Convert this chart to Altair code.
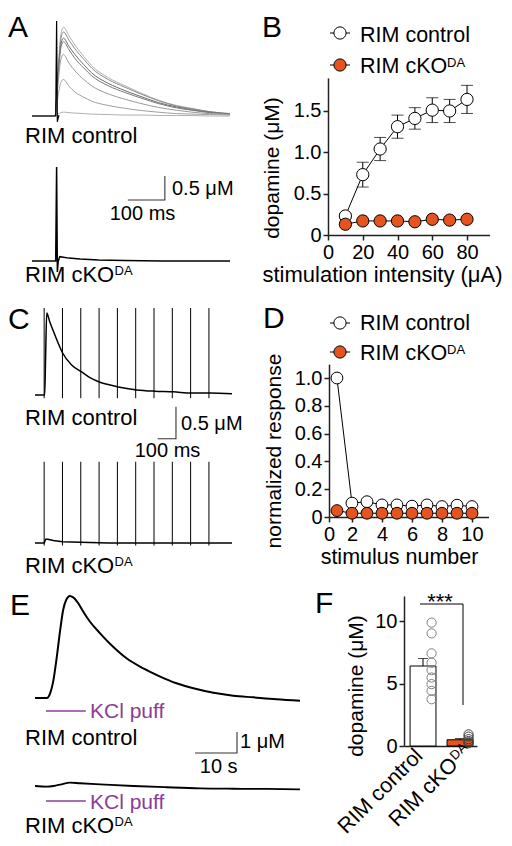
import altair as alt
import pandas as pd

FONT = "Liberation Sans"
ORANGE = "#E5531F"
PURPLE = "#8C3D98"
W, H = 496, 830

# ---------------- data ----------------
# Panel A: evoked dopamine transients (uM) vs time (ms), increasing stimulation
A_t = [0, 62, 70, 78, 85, 100, 116, 140, 161, 206, 251, 300, 341, 390, 432, 480, 535]
A_ctrl_1 = [0, 0, 0.92, 1.70, 1.85, 1.67, 1.48, 1.24, 1.05, 0.80, 0.63, 0.46, 0.33, 0.22, 0.16, 0.09, 0.05]
A_ctrl_2 = [0, 0, 0.85, 1.60, 1.75, 1.58, 1.40, 1.18, 1.00, 0.76, 0.60, 0.44, 0.32, 0.21, 0.15, 0.09, 0.05]
A_ctrl_3 = [0, 0, 0.80, 1.48, 1.62, 1.45, 1.28, 1.07, 0.90, 0.68, 0.53, 0.39, 0.28, 0.19, 0.13, 0.08, 0.04]
A_ctrl_4 = [0, 0, 0.76, 1.42, 1.55, 1.38, 1.20, 1.00, 0.84, 0.63, 0.49, 0.36, 0.26, 0.17, 0.12, 0.07, 0.04]
A_ctrl_5 = [0, 0, 0.64, 1.18, 1.28, 1.10, 0.94, 0.76, 0.63, 0.46, 0.35, 0.25, 0.18, 0.12, 0.08, 0.05, 0.03]
A_ctrl_6 = [0, 0, 0.40, 0.70, 0.76, 0.62, 0.50, 0.39, 0.31, 0.22, 0.16, 0.11, 0.08, 0.05, 0.04, 0.03, 0.02]
A_ctrl_7 = [0, 0, 0.04, 0.07, 0.08, 0.07, 0.06, 0.05, 0.04, 0.03, 0.02, 0.02, 0.01, 0.01, 0.01, 0.00, 0.00]
A_art_t = [0, 64, 66.5, 68.5, 70.5, 73]
A_art_v = [0, 0, 1.98, -0.12, -0.05, 0.02]
A_ko_t = [0, 64, 66.5, 68.5, 71, 75, 85, 100, 130, 180, 250, 350, 450, 535]
A_ko_v = [0, 0, 1.96, -0.23, 0.0, 0.09, 0.08, 0.06, 0.04, 0.02, 0.01, 0.0, 0.0, 0.0]
A_bar_t = [259, 359]      # 100 ms
A_bar_v = [1.27, 1.77]    # 0.5 uM

# Panel B: dopamine vs stimulation intensity
B_x = [10, 20, 30, 40, 50, 60, 70, 80]
B_ctrl = [0.23, 0.73, 1.04, 1.31, 1.41, 1.51, 1.50, 1.64]
B_ctrl_err = [0.03, 0.15, 0.14, 0.14, 0.13, 0.15, 0.14, 0.17]
B_ko = [0.13, 0.17, 0.17, 0.17, 0.16, 0.19, 0.18, 0.19]
B_ko_err = [0.02, 0.02, 0.02, 0.02, 0.02, 0.02, 0.02, 0.02]

# Panel C: 10 Hz train
C_t = [0, 50, 53, 58, 64, 80, 100, 128, 150, 200, 255, 300, 355, 405, 455, 555, 655, 755, 855, 955, 1076]
C_ctrl = [0, 0, 0, 0.6, 1.28, 1.15, 1.0, 0.8, 0.66, 0.47, 0.36, 0.27, 0.2, 0.16, 0.125, 0.08, 0.06, 0.05, 0.03, 0.03, 0.02]
C_ko_t = [0, 50, 58, 70, 100, 150, 250, 400, 1076]
C_ko = [0, 0, 0.06, 0.06, 0.04, 0.02, 0.01, 0, 0]
C_stim = [50, 150, 250, 350, 450, 550, 650, 750, 850, 950]
C_ctrl_spike_lo = [-0.05] * 10
C_ctrl_spike_hi = [1.36] * 10
C_ko_spike_lo = [-0.04] * 10
C_ko_spike_hi = [1.27] * 10
C_bar_t = [670, 770]
C_bar_v = [1.63, 2.13]

# Panel D: normalized response vs stimulus number
D_x = [1, 2, 3, 4, 5, 6, 7, 8, 9, 10]
D_ctrl = [1.0, 0.10, 0.11, 0.087, 0.087, 0.078, 0.087, 0.075, 0.085, 0.075]
D_ko = [0.046, 0.027, 0.027, 0.027, 0.027, 0.027, 0.027, 0.027, 0.027, 0.027]
D_yticks = [0, 0.2, 0.4, 0.6, 0.8, 1.0]

# Panel E: KCl puff (time in s)
E_t = [0, 2.8, 3.6, 4.4, 5.2, 6.0, 6.7, 7.5, 8.3, 9.1, 10.3, 11.5, 13.1, 15.5, 18.6, 21.8,
       25.8, 29.8, 33.7, 37.7, 42.5, 47.2, 52.0, 57.5, 63.1]
E_ctrl = [0, 0, 0.22, 0.86, 1.97, 3.24, 4.19, 4.70, 4.86, 4.79, 4.51, 4.11, 3.63, 3.08, 2.44, 1.89,
          1.41, 1.02, 0.70, 0.46, 0.25, 0.11, 0.03, -0.06, -0.13]
E_ko_t = [0, 2.8, 4.4, 6.3, 8.3, 10.7, 15.5, 23.4, 31.4, 39.3, 47.2, 55.2, 63.1]
E_ko = [0, -0.03, 0, 0.08, 0.16, 0.13, 0.08, 0, -0.06, -0.11, -0.13, -0.14, -0.16]
E_puff = [2.6, 12.1]
E_bar_t = [38.1, 48.1]
E_bar_v = [1.57, 2.57]

# Panel F: peak dopamine
F_groups = ["RIM control", "RIM cKO"]
F_mean = [6.4, 0.5]
F_sem = [0.6, 0.1]
F_ctrl_pts = [9.87, 9.01, 7.41, 6.66, 6.07, 5.48, 4.95, 4.41, 3.74]
F_ko_pts = [0.93, 0.75, 0.55, 0.40, 0.30, 0.22]


# ---------------- helpers ----------------
def S(domain, rng):
    return alt.Scale(domain=domain, range=rng, nice=False, zero=False)


def trace(t, v, xs, ys, color="black", sw=1.0, interp="linear"):
    df = pd.DataFrame({"t": t, "v": v, "i": list(range(len(t)))})
    return alt.Chart(df).mark_line(color=color, strokeWidth=sw, interpolate=interp).encode(
        x=alt.X("t:Q", scale=xs, axis=None),
        y=alt.Y("v:Q", scale=ys, axis=None),
        order="i:Q",
    )


def scalebar(bt, bv, xs, ys):
    return trace([bt[0], bt[1], bt[1]], [bv[0], bv[0], bv[1]], xs, ys, color="#333", sw=1.1)


def spikes(times, lo, hi, xs, ys):
    df = pd.DataFrame({"t": times, "lo": lo, "hi": hi})
    return alt.Chart(df).mark_rule(color="black", strokeWidth=1).encode(
        x=alt.X("t:Q", scale=xs, axis=None),
        y=alt.Y("lo:Q", scale=ys, axis=None),
        y2="hi:Q",
    )


ONE = alt.Data(values=[{"a": 1}])


def label(text, x, y, size=22, color="black", align="left", baseline="alphabetic",
          angle=0, dx=0, dy=0):
    return alt.Chart(ONE).mark_text(
        text=text, font=FONT, fontSize=size, color=color, align=align,
        baseline=baseline, angle=angle, dx=dx, dy=dy,
    ).encode(x=alt.value(x), y=alt.value(y))


def hline(x1, x2, y, color="black", sw=1):
    return alt.Chart(ONE).mark_rule(color=color, strokeWidth=sw).encode(
        x=alt.value(x1), x2=alt.value(x2), y=alt.value(y))


def vline(x, y1, y2, color="black", sw=1):
    return alt.Chart(ONE).mark_rule(color=color, strokeWidth=sw).encode(
        x=alt.value(x), y=alt.value(y1), y2=alt.value(y2))


def dot(x, y, fill, size=150):
    return alt.Chart(ONE).mark_point(
        shape="circle", filled=True, fill=fill, stroke="black", strokeWidth=1,
        size=size, opacity=1).encode(x=alt.value(x), y=alt.value(y))


LBL1 = "datum.value == 0 ? '0' : format(datum.value, '.1f')"

# ---------------- panel A ----------------
xA = S([0, 535], [24, 222])
yA1 = S([0, 2], [108, 12])
yA2 = S([0, 2], [253, 157])
greys = ["#b0b0b0", "#8a8a8a", "#6a6a6a", "#7a7a7a", "#9a9a9a", "#a0a0a0", "#b0b0b0"]
A_ctrl = [A_ctrl_1, A_ctrl_2, A_ctrl_3, A_ctrl_4, A_ctrl_5, A_ctrl_6, A_ctrl_7]
panelA1 = alt.layer(
    *[trace(A_t, tr, xA, yA1, color=g, sw=1, interp="monotone") for tr, g in zip(A_ctrl, greys)],
    trace(A_art_t, A_art_v, xA, yA1, color="black", sw=1.2),
)
panelA2 = alt.layer(
    trace(A_ko_t, A_ko_v, xA, yA2, color="black", sw=1.5),
    scalebar(A_bar_t, A_bar_v, xA, yA2),
)

# ---------------- panel B ----------------
xB = S([0, 93], [320, 481.6])
yB = S([0, 1.9], [227, 69.9])
axBx = alt.Axis(orient="bottom", offset=227 - H, values=[0, 20, 40, 60, 80], title=None,
                labelFlush=False, labelOverlap=False)
axBy = alt.Axis(orient="left", offset=-320, values=[0, 0.5, 1.0, 1.5], labelExpr=LBL1,
                title=None, labelOverlap=False)
dfBc = pd.DataFrame({"x": B_x, "v": B_ctrl, "e": B_ctrl_err})
dfBk = pd.DataFrame({"x": B_x, "v": B_ko, "e": B_ko_err})


def xy_panel(df, xs, ys, ax, ay, kind, fill=None, size=150):
    base = alt.Chart(df).transform_calculate(lo="datum.v - datum.e", hi="datum.v + datum.e")
    X = alt.X("x:Q", scale=xs, axis=ax)
    if kind == "err":
        return base.mark_rule(color="black", strokeWidth=1).encode(
            x=X, y=alt.Y("lo:Q", scale=ys, axis=ay), y2="hi:Q")
    if kind == "caplo":
        return base.mark_tick(orient="horizontal", size=12, thickness=1, color="black").encode(
            x=X, y=alt.Y("lo:Q", scale=ys, axis=ay))
    if kind == "caphi":
        return base.mark_tick(orient="horizontal", size=12, thickness=1, color="black").encode(
            x=X, y=alt.Y("hi:Q", scale=ys, axis=ay))
    if kind == "line":
        return base.mark_line(color="black", strokeWidth=1).encode(
            x=X, y=alt.Y("v:Q", scale=ys, axis=ay))
    return base.mark_point(shape="circle", filled=True, fill=fill, stroke="black",
                           strokeWidth=1, size=size, opacity=1).encode(
        x=X, y=alt.Y("v:Q", scale=ys, axis=ay))


panelB = alt.layer(
    xy_panel(dfBc, xB, yB, axBx, axBy, "err"),
    xy_panel(dfBc, xB, yB, axBx, axBy, "caplo"),
    xy_panel(dfBc, xB, yB, axBx, axBy, "caphi"),
    xy_panel(dfBc, xB, yB, axBx, axBy, "line"),
    xy_panel(dfBk, xB, yB, axBx, axBy, "line"),
    xy_panel(dfBc, xB, yB, axBx, axBy, "pt", fill="white"),
    xy_panel(dfBk, xB, yB, axBx, axBy, "pt", fill=ORANGE),
)

# ---------------- panel C ----------------
xC = S([0, 1076], [27, 224])
yC1 = S([0, 1.5], [387, 291])
yC2 = S([0, 3], [535, 343])
panelC1 = alt.layer(
    trace(C_t, C_ctrl, xC, yC1, color="black", sw=1.5, interp="monotone"),
    spikes(C_stim, C_ctrl_spike_lo, C_ctrl_spike_hi, xC, yC1),
)
panelC2 = alt.layer(
    trace(C_ko_t, C_ko, xC, yC2, color="black", sw=1.5),
    spikes(C_stim, C_ko_spike_lo, C_ko_spike_hi, xC, yC2),
    scalebar(C_bar_t, C_bar_v, xC, yC2),
)

# ---------------- panel D ----------------
xD = S([0.47, 11.1], [321, 480.5])
yD = S([0, 1.1], [509, 356.1])
axDx = alt.Axis(orient="bottom", offset=509 - H, values=[0.47, 2, 4, 6, 8, 10],
                labelExpr="datum.value < 1 ? '0' : format(datum.value, 'd')", title=None,
                labelFlush=False, labelOverlap=False)
axDy = alt.Axis(orient="left", offset=-321, values=D_yticks, labelExpr=LBL1,
                title=None, labelOverlap=False)
dfDc = pd.DataFrame({"x": D_x, "v": D_ctrl, "e": [0] * 10})
dfDk = pd.DataFrame({"x": D_x, "v": D_ko, "e": [0] * 10})
panelD = alt.layer(
    xy_panel(dfDc, xD, yD, axDx, axDy, "line"),
    xy_panel(dfDk, xD, yD, axDx, axDy, "line"),
    xy_panel(dfDc, xD, yD, axDx, axDy, "pt", fill="white", size=140),
    xy_panel(dfDk, xD, yD, axDx, axDy, "pt", fill=ORANGE, size=140),
)

# ---------------- panel E ----------------
xE = S([0, 63.1], [27, 292])
yE1 = S([0, 5], [690, 585])
yE2 = S([0, 5], [778, 673])
puff = pd.DataFrame({"t0": [E_puff[0]], "t1": [E_puff[1]]})
panelE1 = alt.layer(
    trace(E_t, E_ctrl, xE, yE1, color="black", sw=2, interp="monotone"),
    alt.Chart(puff).mark_rule(color=PURPLE, strokeWidth=1.5).encode(
        x=alt.X("t0:Q", scale=xE, axis=None), x2="t1:Q", y=alt.value(703)),
)
panelE2 = alt.layer(
    trace(E_ko_t, E_ko, xE, yE2, color="black", sw=1.8, interp="monotone"),
    alt.Chart(puff).mark_rule(color=PURPLE, strokeWidth=1.5).encode(
        x=alt.X("t0:Q", scale=xE, axis=None), x2="t1:Q", y=alt.value(793)),
    scalebar(E_bar_t, E_bar_v, xE, yE2),
)

# ---------------- panel F ----------------
xF = alt.Scale(domain=F_groups, range=[396, 469], paddingInner=0.3, paddingOuter=0.137, align=0.6)
yF = S([0, 12], [738, 588])
axFx = alt.Axis(orient="bottom", offset=738 - H, labels=False, ticks=False, title=None)
axFy = alt.Axis(orient="left", offset=-396, values=[0, 5, 10], title=None, labelOverlap=False)
dfF = pd.DataFrame({"g": F_groups, "m": F_mean, "s": F_sem})
dfFc = pd.DataFrame({"g": [F_groups[0]] * len(F_ctrl_pts), "v": F_ctrl_pts})
dfFk = pd.DataFrame({"g": [F_groups[1]] * len(F_ko_pts), "v": F_ko_pts})
XF = alt.X("g:N", scale=xF, axis=axFx, sort=F_groups)
panelF = alt.layer(
    alt.Chart(dfF).mark_bar(stroke="black", strokeWidth=1).encode(
        x=XF, y=alt.Y("m:Q", scale=yF, axis=axFy),
        fill=alt.Fill("g:N", scale=alt.Scale(domain=F_groups, range=["white", ORANGE]), legend=None)),
    alt.Chart(dfF).transform_calculate(hi="datum.m + datum.s").mark_rule(
        color="black", strokeWidth=1).encode(x=XF, y=alt.Y("m:Q", scale=yF, axis=axFy), y2="hi:Q"),
    alt.Chart(dfF).transform_calculate(hi="datum.m + datum.s").mark_tick(
        orient="horizontal", size=10, thickness=1, color="black").encode(
        x=XF, y=alt.Y("hi:Q", scale=yF, axis=axFy)),
    alt.Chart(dfFc).mark_point(shape="circle", filled=False, stroke="#808080", strokeWidth=1,
                               size=85, opacity=1).encode(
        x=XF, y=alt.Y("v:Q", scale=yF, axis=axFy), xOffset=alt.value(21.5)),
    alt.Chart(dfFk).mark_point(shape="circle", filled=False, stroke="#444", strokeWidth=1,
                               size=85, opacity=1).encode(
        x=XF, y=alt.Y("v:Q", scale=yF, axis=axFy), xOffset=alt.value(21.5)),
)

# ---------------- annotations ----------------
texts = [
    label("A", 0, 29, size=30), label("B", 254, 29, size=30),
    label("C", 0, 321, size=30), label("D", 255, 320, size=30),
    label("E", 2, 607, size=30), label("F", 307, 605, size=30),
    # trace labels
    label("RIM control", 17, 135), label("RIM cKO", 17, 274), label("DA", 106.5, 267, size=13),
    label("RIM control", 17, 417), label("RIM cKO", 17, 565), label("DA", 106.5, 558, size=13),
    label("RIM control", 17, 737), label("RIM cKO", 17, 825), label("DA", 106.5, 818, size=13),
    # scale bar labels
    label("0.5 \u03bcM", 164, 187, size=20), label("100 ms", 134.5, 212, size=20, align="center"),
    label("0.5 \u03bcM", 173, 422, size=20), label("100 ms", 159.5, 449, size=20, align="center"),
    label("1 \u03bcM", 232, 740, size=20), label("10 s", 210.7, 765, size=20, align="center"),
    # KCl puff
    label("KCl puff", 82, 710, size=21, color=PURPLE),
    label("KCl puff", 82, 801, size=21, color=PURPLE),
    # axis titles
    label("dopamine (\u03bcM)", 265, 160, size=21, align="center", baseline="middle", angle=270),
    label("stimulation intensity (\u03bcA)", 374.5, 274, size=22, align="center"),
    label("normalized response", 267, 443, size=21, align="center", baseline="middle", angle=270),
    label("stimulus number", 391.5, 556, size=21.5, align="center"),
    label("dopamine (\u03bcM)", 349, 678, size=21, align="center", baseline="middle", angle=270),
    # F category labels
    label("RIM control", 416, 749, size=21.5, align="right", angle=315),
    label("RIM cKO", 451, 758, size=21.5, align="right", angle=315),
    label("DA", 451, 758, size=13, align="left", angle=315, dx=1, dy=-6.5),
    # significance
    hline(412, 455, 596), vline(455, 596, 697),
    label("***", 432, 601, size=22, align="center"),
    # legends B
    hline(322, 342, 25), dot(332, 25, "white"), label("RIM control", 352, 34, size=21.5),
    hline(322, 342, 57), dot(332, 57, ORANGE), label("RIM cKO", 352, 65, size=21.5),
    label("DA", 439, 59, size=13),
    # legends D
    hline(322, 342, 315), dot(332, 315, "white"), label("RIM control", 352, 322, size=21.5),
    hline(322, 342, 344), dot(332, 344, ORANGE), label("RIM cKO", 352, 352, size=21.5),
    label("DA", 439, 346, size=13),
]

chart = alt.layer(
    panelA1, panelA2, panelB, panelC1, panelC2, panelD, panelE1, panelE2, panelF, *texts
).resolve_scale(x="independent", y="independent").properties(
    width=W, height=H, autosize=alt.AutoSizeParams(type="none"), padding=0
).configure_view(stroke=None).configure_axis(
    domainColor="#222", domainWidth=1.5, tickColor="#222", tickWidth=1.5, tickSize=5,
    labelFont=FONT, labelFontSize=20, labelColor="black", grid=False, labelPadding=2,
)

chart.save("out.html", embed_options={"renderer": "svg", "actions": False})
